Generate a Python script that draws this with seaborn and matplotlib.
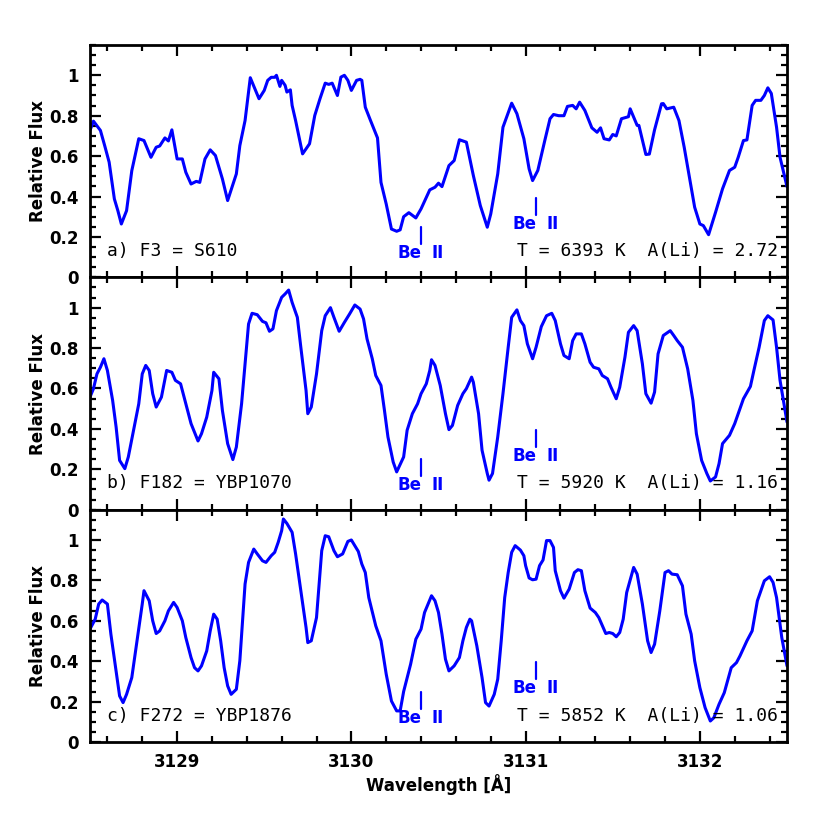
import numpy as np
import pandas as pd
import matplotlib
matplotlib.use("Agg")
import matplotlib.pyplot as plt
from matplotlib.ticker import MultipleLocator, FuncFormatter
import seaborn as sns

# spectra (wavelength in Angstrom, relative flux)
wave_a = [3128.50, 3128.52, 3128.56, 3128.585, 3128.61, 3128.64, 3128.66, 3128.68, 3128.71, 3128.74,
          3128.78, 3128.81, 3128.85, 3128.88, 3128.90, 3128.93, 3128.95, 3128.97, 3129.00, 3129.03,
          3129.05, 3129.08, 3129.11, 3129.13, 3129.16, 3129.19, 3129.22, 3129.26, 3129.29, 3129.34,
          3129.36, 3129.39, 3129.42, 3129.47, 3129.50, 3129.52, 3129.54, 3129.56, 3129.57, 3129.59,
          3129.60, 3129.62, 3129.63, 3129.65, 3129.66, 3129.68, 3129.70, 3129.72, 3129.76, 3129.79,
          3129.82, 3129.85, 3129.87, 3129.89, 3129.92, 3129.94, 3129.96, 3129.98, 3130.00, 3130.03,
          3130.05, 3130.06, 3130.08, 3130.11, 3130.15, 3130.17, 3130.20, 3130.23, 3130.26, 3130.28,
          3130.30, 3130.33, 3130.37, 3130.40, 3130.45, 3130.48, 3130.50, 3130.52, 3130.56, 3130.59,
          3130.62, 3130.66, 3130.70, 3130.74, 3130.78, 3130.80, 3130.84, 3130.87, 3130.92, 3130.95,
          3130.99, 3131.02, 3131.04, 3131.07, 3131.11, 3131.14, 3131.16, 3131.19, 3131.22, 3131.24,
          3131.27, 3131.29, 3131.31, 3131.34, 3131.38, 3131.41, 3131.43, 3131.45, 3131.48, 3131.50,
          3131.52, 3131.55, 3131.59, 3131.60, 3131.64, 3131.65, 3131.69, 3131.71, 3131.74, 3131.78,
          3131.79, 3131.81, 3131.85, 3131.88, 3131.91, 3131.94, 3131.97, 3132.00, 3132.02, 3132.05,
          3132.09, 3132.13, 3132.17, 3132.20, 3132.22, 3132.25, 3132.27, 3132.30, 3132.32, 3132.35,
          3132.37, 3132.39, 3132.41, 3132.44, 3132.46, 3132.50]
flux_a = [0.727, 0.773, 0.727, 0.650, 0.570, 0.388, 0.330, 0.264, 0.330, 0.528,
          0.686, 0.677, 0.594, 0.644, 0.650, 0.690, 0.675, 0.730, 0.586, 0.586,
          0.520, 0.462, 0.475, 0.470, 0.586, 0.631, 0.603, 0.487, 0.380, 0.512,
          0.652, 0.776, 0.988, 0.884, 0.925, 0.975, 0.990, 0.990, 1.000, 0.945,
          0.975, 0.950, 0.917, 0.928, 0.851, 0.776, 0.694, 0.611, 0.661, 0.801,
          0.884, 0.961, 0.955, 0.961, 0.900, 0.991, 1.000, 0.975, 0.925, 0.975,
          0.980, 0.975, 0.842, 0.776, 0.690, 0.470, 0.363, 0.239, 0.228, 0.235,
          0.300, 0.320, 0.294, 0.339, 0.433, 0.446, 0.466, 0.449, 0.553, 0.578,
          0.681, 0.669, 0.504, 0.355, 0.248, 0.314, 0.512, 0.743, 0.862, 0.810,
          0.686, 0.537, 0.479, 0.529, 0.677, 0.785, 0.806, 0.800, 0.800, 0.846,
          0.851, 0.834, 0.867, 0.826, 0.740, 0.718, 0.740, 0.686, 0.680, 0.707,
          0.700, 0.785, 0.795, 0.834, 0.752, 0.752, 0.608, 0.610, 0.730, 0.859,
          0.860, 0.834, 0.842, 0.776, 0.644, 0.495, 0.347, 0.264, 0.256, 0.211,
          0.322, 0.438, 0.529, 0.545, 0.594, 0.677, 0.680, 0.851, 0.876, 0.876,
          0.900, 0.938, 0.910, 0.743, 0.594, 0.449]

wave_b = [3128.50, 3128.52, 3128.54, 3128.56, 3128.58, 3128.60, 3128.63, 3128.65, 3128.67, 3128.70,
          3128.72, 3128.75, 3128.78, 3128.80, 3128.82, 3128.84, 3128.86, 3128.88, 3128.91, 3128.94,
          3128.97, 3128.99, 3129.02, 3129.05, 3129.08, 3129.12, 3129.14, 3129.17, 3129.20, 3129.21,
          3129.24, 3129.26, 3129.29, 3129.32, 3129.34, 3129.37, 3129.39, 3129.41, 3129.43, 3129.46,
          3129.49, 3129.51, 3129.53, 3129.55, 3129.57, 3129.60, 3129.62, 3129.64, 3129.66, 3129.69,
          3129.71, 3129.74, 3129.75, 3129.77, 3129.80, 3129.83, 3129.85, 3129.88, 3129.90, 3129.93,
          3129.96, 3129.99, 3130.02, 3130.05, 3130.07, 3130.09, 3130.12, 3130.14, 3130.17, 3130.19,
          3130.21, 3130.24, 3130.26, 3130.30, 3130.32, 3130.35, 3130.38, 3130.40, 3130.43, 3130.45,
          3130.46, 3130.48, 3130.51, 3130.54, 3130.56, 3130.58, 3130.61, 3130.64, 3130.66, 3130.69,
          3130.70, 3130.73, 3130.75, 3130.78, 3130.79, 3130.81, 3130.84, 3130.87, 3130.90, 3130.92,
          3130.95, 3130.97, 3130.99, 3131.01, 3131.04, 3131.06, 3131.09, 3131.12, 3131.15, 3131.17,
          3131.20, 3131.22, 3131.25, 3131.27, 3131.29, 3131.32, 3131.34, 3131.37, 3131.39, 3131.42,
          3131.44, 3131.47, 3131.49, 3131.52, 3131.54, 3131.57, 3131.59, 3131.62, 3131.64, 3131.67,
          3131.69, 3131.72, 3131.74, 3131.76, 3131.79, 3131.83, 3131.85, 3131.87, 3131.90, 3131.93,
          3131.96, 3131.98, 3132.01, 3132.04, 3132.06, 3132.09, 3132.11, 3132.13, 3132.17, 3132.20,
          3132.23, 3132.25, 3132.29, 3132.31, 3132.34, 3132.37, 3132.39, 3132.42, 3132.44, 3132.46,
          3132.50]
flux_b = [0.557, 0.599, 0.672, 0.705, 0.747, 0.689, 0.541, 0.409, 0.244, 0.203,
          0.261, 0.393, 0.524, 0.672, 0.714, 0.689, 0.574, 0.508, 0.557, 0.689,
          0.680, 0.640, 0.623, 0.524, 0.426, 0.340, 0.376, 0.458, 0.590, 0.680,
          0.648, 0.491, 0.327, 0.248, 0.310, 0.524, 0.722, 0.919, 0.972, 0.965,
          0.932, 0.925, 0.883, 0.895, 0.985, 1.051, 1.068, 1.087, 1.026, 0.952,
          0.804, 0.590, 0.475, 0.508, 0.672, 0.886, 0.960, 1.000, 0.952, 0.883,
          0.927, 0.969, 1.013, 0.993, 0.944, 0.845, 0.747, 0.664, 0.615, 0.491,
          0.360, 0.236, 0.187, 0.261, 0.393, 0.475, 0.524, 0.574, 0.623, 0.689,
          0.742, 0.714, 0.615, 0.475, 0.396, 0.417, 0.516, 0.574, 0.599, 0.656,
          0.631, 0.475, 0.294, 0.179, 0.146, 0.179, 0.360, 0.574, 0.804, 0.952,
          0.989, 0.936, 0.911, 0.821, 0.747, 0.804, 0.906, 0.960, 0.972, 0.936,
          0.821, 0.763, 0.747, 0.837, 0.870, 0.870, 0.821, 0.730, 0.705, 0.697,
          0.664, 0.648, 0.606, 0.549, 0.606, 0.755, 0.878, 0.911, 0.886, 0.722,
          0.574, 0.527, 0.582, 0.771, 0.862, 0.886, 0.862, 0.837, 0.804, 0.697,
          0.541, 0.376, 0.244, 0.179, 0.142, 0.162, 0.228, 0.327, 0.368, 0.426,
          0.500, 0.549, 0.610, 0.689, 0.804, 0.936, 0.960, 0.939, 0.804, 0.640,
          0.434]

wave_c = [3128.50, 3128.53, 3128.55, 3128.57, 3128.60, 3128.62, 3128.65, 3128.67, 3128.69, 3128.71,
          3128.74, 3128.77, 3128.80, 3128.81, 3128.84, 3128.86, 3128.88, 3128.90, 3128.93, 3128.95,
          3128.98, 3129.00, 3129.03, 3129.05, 3129.08, 3129.10, 3129.12, 3129.14, 3129.17, 3129.19,
          3129.21, 3129.23, 3129.25, 3129.27, 3129.29, 3129.31, 3129.34, 3129.36, 3129.39, 3129.41,
          3129.44, 3129.46, 3129.49, 3129.51, 3129.54, 3129.56, 3129.58, 3129.60, 3129.61, 3129.63,
          3129.66, 3129.68, 3129.71, 3129.74, 3129.75, 3129.77, 3129.80, 3129.83, 3129.85, 3129.87,
          3129.90, 3129.92, 3129.95, 3129.98, 3130.00, 3130.02, 3130.04, 3130.06, 3130.08, 3130.10,
          3130.14, 3130.17, 3130.20, 3130.23, 3130.26, 3130.28, 3130.30, 3130.34, 3130.37, 3130.40,
          3130.42, 3130.46, 3130.48, 3130.50, 3130.52, 3130.54, 3130.56, 3130.59, 3130.62, 3130.64,
          3130.66, 3130.68, 3130.69, 3130.72, 3130.75, 3130.77, 3130.79, 3130.82, 3130.84, 3130.86,
          3130.88, 3130.90, 3130.92, 3130.94, 3130.97, 3130.99, 3131.00, 3131.02, 3131.04, 3131.06,
          3131.08, 3131.10, 3131.12, 3131.14, 3131.16, 3131.17, 3131.20, 3131.22, 3131.25, 3131.28,
          3131.30, 3131.32, 3131.34, 3131.37, 3131.40, 3131.42, 3131.46, 3131.48, 3131.50, 3131.52,
          3131.54, 3131.56, 3131.58, 3131.62, 3131.64, 3131.67, 3131.70, 3131.72, 3131.74, 3131.77,
          3131.80, 3131.82, 3131.84, 3131.87, 3131.90, 3131.92, 3131.95, 3131.97, 3132.00, 3132.03,
          3132.06, 3132.08, 3132.11, 3132.14, 3132.18, 3132.21, 3132.23, 3132.27, 3132.30, 3132.33,
          3132.37, 3132.40, 3132.42, 3132.44, 3132.47, 3132.50]
flux_c = [0.559, 0.608, 0.683, 0.703, 0.683, 0.534, 0.352, 0.228, 0.195, 0.236,
          0.319, 0.501, 0.683, 0.749, 0.699, 0.600, 0.537, 0.550, 0.600, 0.649,
          0.691, 0.666, 0.600, 0.517, 0.418, 0.368, 0.352, 0.377, 0.451, 0.550,
          0.633, 0.608, 0.501, 0.368, 0.278, 0.236, 0.261, 0.402, 0.782, 0.889,
          0.955, 0.931, 0.897, 0.889, 0.922, 0.939, 0.988, 1.046, 1.104, 1.082,
          1.038, 0.931, 0.749, 0.567, 0.492, 0.501, 0.616, 0.947, 1.021, 1.016,
          0.947, 0.917, 0.931, 0.993, 1.000, 0.972, 0.943, 0.881, 0.839, 0.715,
          0.575, 0.501, 0.336, 0.203, 0.154, 0.154, 0.250, 0.385, 0.509, 0.559,
          0.641, 0.724, 0.699, 0.641, 0.534, 0.410, 0.352, 0.377, 0.418, 0.501,
          0.567, 0.608, 0.600, 0.476, 0.319, 0.195, 0.178, 0.236, 0.311, 0.501,
          0.715, 0.839, 0.939, 0.972, 0.950, 0.922, 0.873, 0.812, 0.803, 0.806,
          0.873, 0.901, 0.997, 0.997, 0.963, 0.848, 0.749, 0.712, 0.757, 0.839,
          0.853, 0.848, 0.749, 0.663, 0.641, 0.616, 0.537, 0.542, 0.537, 0.521,
          0.542, 0.608, 0.740, 0.864, 0.831, 0.683, 0.501, 0.443, 0.484, 0.649,
          0.839, 0.848, 0.831, 0.828, 0.773, 0.633, 0.534, 0.402, 0.269, 0.170,
          0.104, 0.120, 0.187, 0.244, 0.368, 0.393, 0.426, 0.501, 0.550, 0.699,
          0.798, 0.818, 0.790, 0.715, 0.517, 0.377]

panel_labels = ["a) F3 = S610", "b) F182 = YBP1070", "c) F272 = YBP1876"]
temps = [6393, 5920, 5852]
ali = ["2.72", "1.16", "1.06"]
be_lines = [3130.40, 3131.06]

sns.set_style("ticks")
plt.rcParams["font.family"] = ["DejaVu Sans"]
plt.rcParams["axes.linewidth"] = 2.0
plt.rcParams["text.color"] = "black"
plt.rcParams["axes.labelcolor"] = "black"
plt.rcParams["xtick.color"] = "black"
plt.rcParams["ytick.color"] = "black"
plt.rcParams["axes.edgecolor"] = "black"

fig, axes = plt.subplots(3, 1, figsize=(8.3, 8.3), dpi=100, sharex=True)
fig.subplots_adjust(left=0.1084, right=0.9482, top=0.9458, bottom=0.106, hspace=0)

spectra = [(wave_a, flux_a), (wave_b, flux_b), (wave_c, flux_c)]
blue = "#0000ff"

for i, ax in enumerate(axes):
    w, f = spectra[i]
    df = pd.DataFrame({"wave": w, "flux": f})
    sns.lineplot(data=df, x="wave", y="flux", ax=ax, color=blue, lw=2.2,
                 estimator=None, sort=False, solid_joinstyle="round")
    ax.set_xlim(3128.5, 3132.5)
    ax.set_ylim(0, 1.15)
    ax.xaxis.set_major_locator(MultipleLocator(1))
    ax.xaxis.set_minor_locator(MultipleLocator(0.2))
    ax.yaxis.set_major_locator(MultipleLocator(0.2))
    ax.yaxis.set_minor_locator(MultipleLocator(0.05))
    ax.yaxis.set_major_formatter(FuncFormatter(lambda v, p: f"{v:g}"))
    ax.tick_params(which="both", direction="in", top=True, right=True, width=1.6, color="black")
    ax.tick_params(which="major", length=8, pad=8)
    ax.tick_params(which="minor", length=4.5)
    for lab in ax.get_xticklabels() + ax.get_yticklabels():
        lab.set_fontweight("bold")
        lab.set_fontsize(12)
    ax.set_ylabel("Relative Flux", fontsize=12, fontweight="bold", labelpad=2)
    ax.set_xlabel("")

    # annotations
    ax.text(3128.595, 0.13, panel_labels[i], fontsize=13, family="DejaVu Sans Mono",
            ha="left", va="center")
    ax.text(3132.45, 0.13, f"T = {temps[i]} K  A(Li) = {ali[i]}", fontsize=13,
            family="DejaVu Sans Mono", ha="right", va="center")

    # Be II markers
    for k, bx in enumerate(be_lines):
        off = 0.145 * k
        ax.plot([bx, bx], [0.165 + off, 0.25 + off], color=blue, lw=1.6)
        ax.text(bx + 0.005, 0.12 + off, "Be", color=blue, fontsize=12, fontweight="bold",
                ha="right", va="center")
        ax.text(bx + 0.06, 0.12 + off, "II", color=blue, fontsize=12, fontweight="bold",
                ha="left", va="center")

axes[-1].set_xlabel("Wavelength [Å]", fontsize=12, fontweight="bold", labelpad=2)
for lab in axes[-1].get_xticklabels():
    lab.set_fontweight("bold")

fig.savefig("out.png", dpi=100)
